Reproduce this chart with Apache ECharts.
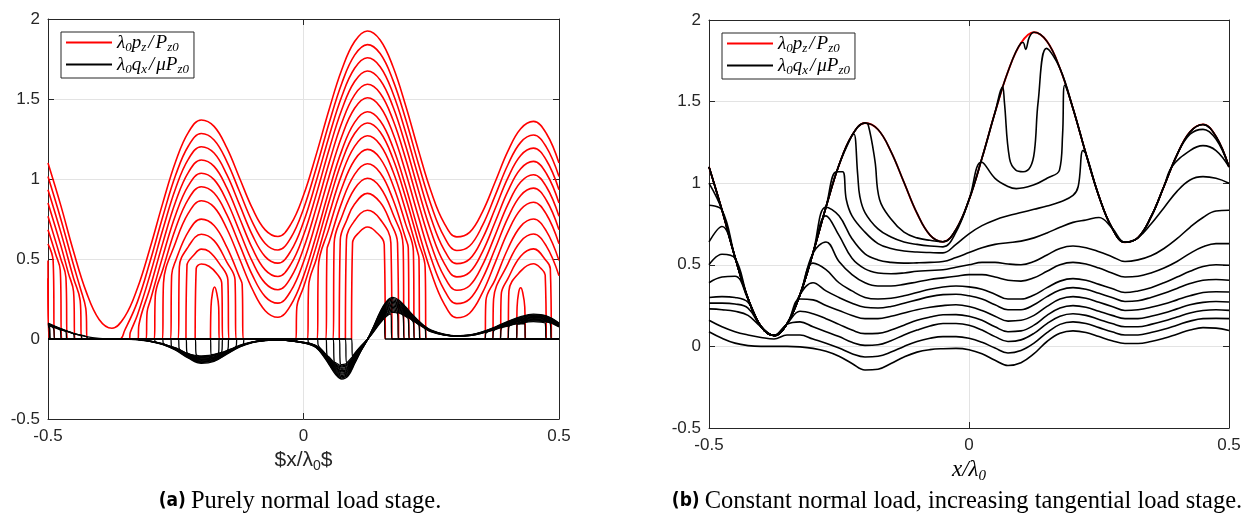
<!DOCTYPE html>
<html><head><meta charset="utf-8">
<script src="https://cdn.jsdelivr.net/npm/echarts@6/dist/echarts.min.js"></script>
<style>html,body{margin:0;padding:0;background:#fff}#c{width:1257px;height:523px}</style>
</head><body><div id="c"></div>
<script>
const xTickStep = 0.5, yTickStep = 0.5;
const xRange = [-0.5, 0.5];
const yRange = [-0.5, 2];

// (a) pressure curves
const pA0 = [[-0.5,1.10],[-0.475,0.835],[-0.45,0.547],[-0.425,0.293],[-0.4,0.122],[-0.375,0.067],[-0.35,0.138],[-0.325,0.317],[-0.3,0.572],[-0.275,0.854],[-0.25,1.111],[-0.225,1.293],[-0.2,1.369],[-0.175,1.329],[-0.15,1.194],[-0.125,1.005],[-0.1,0.816],[-0.075,0.682],[-0.05,0.641],[-0.025,0.716],[0,0.898],[0.025,1.154],[0.05,1.433],[0.075,1.684],[0.1,1.859],[0.125,1.925],[0.15,1.869],[0.175,1.703],[0.2,1.458],[0.225,1.179],[0.25,0.919],[0.275,0.726],[0.3,0.638],[0.325,0.666],[0.35,0.793],[0.375,0.981],[0.4,1.174],[0.425,1.314],[0.45,1.36],[0.475,1.286],[0.5,1.10]];
const pA1 = [[-0.5,1.015],[-0.475,0.75],[-0.45,0.462],[-0.437,0.32],[-0.426,0.19],[-0.423,0],[-0.36,0],[-0.35,0.053],[-0.325,0.232],[-0.3,0.487],[-0.275,0.769],[-0.25,1.026],[-0.225,1.208],[-0.2,1.284],[-0.175,1.244],[-0.15,1.109],[-0.125,0.92],[-0.1,0.731],[-0.075,0.597],[-0.05,0.556],[-0.025,0.631],[0,0.813],[0.025,1.069],[0.05,1.348],[0.075,1.599],[0.1,1.774],[0.125,1.84],[0.15,1.784],[0.175,1.618],[0.2,1.373],[0.225,1.094],[0.25,0.834],[0.275,0.641],[0.3,0.553],[0.325,0.581],[0.35,0.708],[0.375,0.896],[0.4,1.089],[0.425,1.229],[0.45,1.275],[0.475,1.201],[0.5,1.015]];
const pA2 = [[-0.5,0.933],[-0.475,0.668],[-0.45,0.38],[-0.437,0.24],[-0.434,0],[-0.341,0],[-0.339,0.04],[-0.325,0.15],[-0.3,0.405],[-0.275,0.687],[-0.25,0.944],[-0.225,1.126],[-0.2,1.202],[-0.175,1.162],[-0.15,1.027],[-0.125,0.838],[-0.1,0.649],[-0.075,0.515],[-0.05,0.474],[-0.025,0.549],[0,0.731],[0.025,0.987],[0.05,1.266],[0.075,1.517],[0.1,1.692],[0.125,1.758],[0.15,1.702],[0.175,1.536],[0.2,1.291],[0.225,1.012],[0.25,0.752],[0.275,0.559],[0.3,0.471],[0.325,0.499],[0.35,0.626],[0.375,0.814],[0.4,1.007],[0.425,1.147],[0.45,1.193],[0.475,1.119],[0.5,0.933]];
const pA3 = [[-0.5,0.85],[-0.475,0.585],[-0.46,0.41],[-0.45,0.297],[-0.447,0],[-0.324,0],[-0.322,0.09],[-0.3,0.322],[-0.275,0.604],[-0.25,0.861],[-0.225,1.043],[-0.2,1.119],[-0.175,1.079],[-0.15,0.944],[-0.125,0.755],[-0.1,0.566],[-0.075,0.432],[-0.05,0.391],[-0.025,0.466],[0,0.648],[0.025,0.904],[0.05,1.183],[0.075,1.434],[0.1,1.609],[0.125,1.675],[0.15,1.619],[0.175,1.453],[0.2,1.208],[0.225,0.929],[0.25,0.669],[0.275,0.476],[0.3,0.388],[0.325,0.416],[0.35,0.543],[0.375,0.731],[0.4,0.924],[0.425,1.064],[0.45,1.11],[0.475,1.036],[0.5,0.85]];
const pA4 = [[-0.5,0.767],[-0.475,0.502],[-0.465,0.386],[-0.462,0],[-0.308,0],[-0.306,0.17],[-0.3,0.239],[-0.275,0.521],[-0.25,0.778],[-0.225,0.96],[-0.2,1.036],[-0.175,0.996],[-0.15,0.861],[-0.125,0.672],[-0.1,0.483],[-0.075,0.349],[-0.05,0.308],[-0.025,0.383],[0,0.565],[0.025,0.821],[0.05,1.1],[0.075,1.351],[0.1,1.526],[0.125,1.592],[0.15,1.536],[0.175,1.37],[0.2,1.125],[0.225,0.846],[0.25,0.586],[0.275,0.393],[0.3,0.305],[0.325,0.333],[0.35,0.46],[0.375,0.648],[0.4,0.841],[0.425,0.981],[0.45,1.027],[0.475,0.953],[0.5,0.767]];
const pA5 = [[-0.5,0.683],[-0.485,0.53],[-0.476,0.43],[-0.473,0],[-0.292,0],[-0.29,0.27],[-0.275,0.437],[-0.25,0.694],[-0.225,0.876],[-0.2,0.952],[-0.175,0.912],[-0.15,0.777],[-0.125,0.588],[-0.1,0.399],[-0.075,0.265],[-0.05,0.224],[-0.025,0.299],[0,0.481],[0.025,0.737],[0.05,1.016],[0.075,1.267],[0.1,1.442],[0.125,1.508],[0.15,1.452],[0.175,1.286],[0.2,1.041],[0.225,0.762],[0.25,0.502],[0.275,0.309],[0.3,0.221],[0.325,0.249],[0.35,0.376],[0.375,0.564],[0.4,0.757],[0.425,0.897],[0.45,0.943],[0.475,0.869],[0.5,0.683]];
const pA6 = [[-0.5,0.595],[-0.49,0.49],[-0.487,0],[-0.276,0],[-0.274,0.35],[-0.25,0.606],[-0.225,0.788],[-0.2,0.864],[-0.175,0.824],[-0.15,0.689],[-0.125,0.5],[-0.1,0.311],[-0.075,0.177],[-0.05,0.136],[-0.025,0.211],[0,0.393],[0.025,0.649],[0.05,0.928],[0.075,1.179],[0.1,1.354],[0.125,1.42],[0.15,1.364],[0.175,1.198],[0.2,0.953],[0.225,0.674],[0.25,0.414],[0.275,0.221],[0.3,0.133],[0.325,0.161],[0.35,0.288],[0.375,0.476],[0.4,0.669],[0.425,0.809],[0.45,0.855],[0.475,0.781],[0.5,0.595]];
const pA7 = [[-0.5,0.49],[-0.497,0],[-0.26,0],[-0.258,0.4],[-0.25,0.491],[-0.225,0.673],[-0.2,0.749],[-0.175,0.709],[-0.15,0.574],[-0.125,0.385],[-0.12,0.34],[-0.118,0],[-0.015,0],[-0.013,0.2],[0,0.323],[0.025,0.579],[0.05,0.858],[0.075,1.109],[0.1,1.284],[0.125,1.35],[0.15,1.294],[0.175,1.128],[0.2,0.883],[0.225,0.604],[0.238,0.45],[0.24,0],[0.355,0],[0.357,0.24],[0.375,0.371],[0.4,0.564],[0.425,0.704],[0.45,0.75],[0.475,0.676],[0.5,0.49]];
const pA8 = [[-0.5,0.38],[-0.498,0],[-0.245,0],[-0.243,0.45],[-0.225,0.579],[-0.2,0.655],[-0.175,0.615],[-0.15,0.48],[-0.134,0.37],[-0.132,0],[0.008,0],[0.01,0.33],[0.025,0.499],[0.05,0.778],[0.075,1.029],[0.1,1.204],[0.125,1.27],[0.15,1.214],[0.175,1.048],[0.2,0.803],[0.225,0.524],[0.226,0.5],[0.228,0],[0.37,0],[0.372,0.25],[0.4,0.47],[0.425,0.61],[0.45,0.656],[0.475,0.582],[0.5,0.396]];
const pA9 = [[-0.23,0],[-0.228,0.46],[-0.215,0.523],[-0.2,0.562],[-0.185,0.548],[-0.165,0.473],[-0.148,0.37],[-0.146,0],[0.027,0],[0.029,0.45],[0.05,0.693],[0.075,0.944],[0.1,1.119],[0.125,1.185],[0.15,1.129],[0.175,0.963],[0.2,0.718],[0.215,0.55],[0.217,0],[0.385,0],[0.387,0.28],[0.4,0.377],[0.425,0.517],[0.45,0.563],[0.475,0.489],[0.483,0.44],[0.485,0]];
const pA10 = [[-0.212,0],[-0.21,0.44],[-0.2,0.469],[-0.185,0.455],[-0.17,0.41],[-0.16,0.35],[-0.158,0],[0.044,0],[0.046,0.56],[0.05,0.603],[0.075,0.854],[0.1,1.029],[0.125,1.095],[0.15,1.039],[0.175,0.873],[0.2,0.628],[0.205,0.57],[0.207,0],[0.4,0],[0.402,0.3],[0.425,0.424],[0.45,0.47],[0.465,0.44],[0.473,0.4],[0.475,0]];
const pA11 = [[-0.182,0],[-0.181,0.2],[-0.178,0.29],[-0.174,0.325],[-0.17,0.29],[-0.166,0.2],[-0.165,0],[0.058,0],[0.06,0.6],[0.075,0.764],[0.1,0.939],[0.125,1.005],[0.15,0.949],[0.175,0.783],[0.195,0.58],[0.197,0],[0.417,0],[0.418,0.2],[0.421,0.29],[0.425,0.32],[0.429,0.29],[0.433,0.2],[0.434,0]];
const pA12 = [[0.07,0],[0.072,0.62],[0.085,0.745],[0.1,0.844],[0.125,0.91],[0.15,0.854],[0.17,0.73],[0.184,0.6],[0.186,0]];
const pA13 = [[0.082,0],[0.084,0.62],[0.1,0.739],[0.125,0.805],[0.15,0.749],[0.171,0.6],[0.173,0]];
const pA14 = [[0.094,0],[0.096,0.6],[0.11,0.67],[0.125,0.70],[0.14,0.675],[0.158,0.59],[0.16,0]];

// (a) tangential traction curves
const qA0 = [[-0.5,0.1],[-0.475,0.065],[-0.45,0.035],[-0.425,0.015],[-0.4,0.004],[-0.375,0],[-0.35,0],[-0.325,-0.004],[-0.3,-0.015],[-0.275,-0.035],[-0.25,-0.07],[-0.225,-0.12],[-0.2,-0.152],[-0.175,-0.14],[-0.15,-0.095],[-0.125,-0.05],[-0.1,-0.022],[-0.075,-0.01],[-0.05,-0.006],[-0.025,-0.012],[0,-0.025],[0.0125,-0.035],[0.025,-0.055],[0.0375,-0.1],[0.05,-0.16],[0.0625,-0.22],[0.075,-0.25],[0.0875,-0.23],[0.1,-0.155],[0.1125,-0.075],[0.125,-0.005],[0.1375,0.08],[0.15,0.17],[0.1625,0.235],[0.175,0.26],[0.1875,0.24],[0.2,0.2],[0.2125,0.155],[0.225,0.115],[0.2375,0.08],[0.25,0.055],[0.275,0.03],[0.3,0.02],[0.325,0.025],[0.35,0.045],[0.375,0.075],[0.4,0.11],[0.425,0.14],[0.45,0.155],[0.475,0.145],[0.5,0.1]];
const qA1 = [[-0.5,0.097],[-0.475,0.063],[-0.45,0.034],[-0.424,0.014],[-0.422,0],[-0.36,0],[-0.325,-0.004],[-0.3,-0.015],[-0.275,-0.034],[-0.25,-0.068],[-0.225,-0.116],[-0.2,-0.147],[-0.175,-0.136],[-0.15,-0.092],[-0.125,-0.049],[-0.1,-0.021],[-0.075,-0.01],[-0.05,-0.006],[-0.025,-0.012],[0,-0.024],[0.0125,-0.034],[0.025,-0.053],[0.0375,-0.097],[0.05,-0.155],[0.0625,-0.213],[0.075,-0.243],[0.0875,-0.223],[0.1,-0.15],[0.1125,-0.073],[0.125,-0.005],[0.1375,0.078],[0.15,0.165],[0.1625,0.228],[0.175,0.252],[0.1875,0.233],[0.2,0.194],[0.2125,0.15],[0.225,0.112],[0.2375,0.078],[0.25,0.053],[0.275,0.029],[0.3,0.019],[0.325,0.024],[0.35,0.044],[0.375,0.073],[0.4,0.107],[0.425,0.136],[0.45,0.15],[0.475,0.141],[0.5,0.097]];
const qA2 = [[-0.5,0.094],[-0.475,0.061],[-0.45,0.033],[-0.435,0.02],[-0.433,0],[-0.341,0],[-0.325,-0.004],[-0.3,-0.014],[-0.275,-0.033],[-0.25,-0.066],[-0.225,-0.113],[-0.2,-0.143],[-0.175,-0.132],[-0.15,-0.089],[-0.125,-0.047],[-0.1,-0.021],[-0.075,-0.009],[-0.05,-0.006],[-0.025,-0.011],[0,-0.024],[0.0125,-0.033],[0.025,-0.052],[0.0375,-0.094],[0.05,-0.15],[0.0625,-0.207],[0.075,-0.235],[0.0875,-0.216],[0.1,-0.146],[0.1125,-0.071],[0.125,-0.005],[0.1375,0.075],[0.15,0.16],[0.1625,0.221],[0.175,0.244],[0.1875,0.226],[0.2,0.188],[0.2125,0.146],[0.225,0.108],[0.2375,0.075],[0.25,0.052],[0.275,0.028],[0.3,0.019],[0.325,0.024],[0.35,0.042],[0.375,0.071],[0.4,0.103],[0.425,0.132],[0.45,0.146],[0.475,0.136],[0.5,0.094]];
const qA3 = [[-0.5,0.091],[-0.475,0.059],[-0.45,0.032],[-0.448,0],[-0.324,0],[-0.322,-0.005],[-0.3,-0.014],[-0.275,-0.032],[-0.25,-0.064],[-0.225,-0.109],[-0.2,-0.138],[-0.175,-0.127],[-0.15,-0.086],[-0.125,-0.046],[-0.1,-0.02],[-0.075,-0.009],[-0.05,-0.005],[-0.025,-0.011],[0,-0.023],[0.0125,-0.032],[0.025,-0.05],[0.0375,-0.091],[0.05,-0.146],[0.0625,-0.2],[0.075,-0.228],[0.0875,-0.209],[0.1,-0.141],[0.1125,-0.068],[0.125,-0.005],[0.1375,0.073],[0.15,0.155],[0.1625,0.214],[0.175,0.237],[0.1875,0.218],[0.2,0.182],[0.2125,0.141],[0.225,0.105],[0.2375,0.073],[0.25,0.05],[0.275,0.027],[0.3,0.018],[0.325,0.023],[0.35,0.041],[0.375,0.068],[0.4,0.1],[0.425,0.127],[0.45,0.141],[0.475,0.132],[0.5,0.091]];
const qA4 = [[-0.5,0.088],[-0.475,0.057],[-0.465,0.045],[-0.463,0],[-0.308,0],[-0.306,-0.012],[-0.3,-0.013],[-0.275,-0.031],[-0.25,-0.062],[-0.225,-0.106],[-0.2,-0.134],[-0.175,-0.123],[-0.15,-0.084],[-0.125,-0.044],[-0.1,-0.019],[-0.075,-0.009],[-0.05,-0.005],[-0.025,-0.011],[0,-0.022],[0.0125,-0.031],[0.025,-0.048],[0.0375,-0.088],[0.05,-0.141],[0.0625,-0.194],[0.075,-0.22],[0.0875,-0.202],[0.1,-0.136],[0.1125,-0.066],[0.125,-0.004],[0.1375,0.07],[0.15,0.15],[0.1625,0.207],[0.175,0.229],[0.1875,0.211],[0.2,0.176],[0.2125,0.136],[0.225,0.101],[0.2375,0.07],[0.25,0.048],[0.275,0.026],[0.3,0.018],[0.325,0.022],[0.35,0.04],[0.375,0.066],[0.4,0.097],[0.425,0.123],[0.45,0.136],[0.475,0.128],[0.5,0.088]];
const qA5 = [[-0.5,0.085],[-0.476,0.056],[-0.474,0],[-0.292,0],[-0.29,-0.018],[-0.275,-0.03],[-0.25,-0.06],[-0.225,-0.102],[-0.2,-0.129],[-0.175,-0.119],[-0.15,-0.081],[-0.125,-0.043],[-0.1,-0.019],[-0.075,-0.009],[-0.05,-0.005],[-0.025,-0.01],[0,-0.021],[0.0125,-0.03],[0.025,-0.047],[0.0375,-0.085],[0.05,-0.136],[0.0625,-0.187],[0.075,-0.213],[0.0875,-0.196],[0.1,-0.132],[0.1125,-0.064],[0.125,-0.004],[0.1375,0.068],[0.15,0.145],[0.1625,0.2],[0.175,0.221],[0.1875,0.204],[0.2,0.17],[0.2125,0.132],[0.225,0.098],[0.2375,0.068],[0.25,0.047],[0.275,0.026],[0.3,0.017],[0.325,0.021],[0.35,0.038],[0.375,0.064],[0.4,0.094],[0.425,0.119],[0.45,0.132],[0.475,0.123],[0.5,0.085]];
const qA6 = [[-0.5,0.082],[-0.489,0.066],[-0.487,0],[-0.276,0],[-0.274,-0.03],[-0.25,-0.057],[-0.225,-0.098],[-0.2,-0.125],[-0.175,-0.115],[-0.15,-0.078],[-0.125,-0.041],[-0.1,-0.018],[-0.075,-0.008],[-0.05,-0.005],[-0.025,-0.01],[0,-0.021],[0.0125,-0.029],[0.025,-0.045],[0.0375,-0.082],[0.05,-0.131],[0.0625,-0.18],[0.075,-0.205],[0.0875,-0.189],[0.1,-0.127],[0.1125,-0.062],[0.125,-0.004],[0.1375,0.066],[0.15,0.139],[0.1625,0.193],[0.175,0.213],[0.1875,0.197],[0.2,0.164],[0.2125,0.127],[0.225,0.094],[0.2375,0.066],[0.25,0.045],[0.275,0.025],[0.3,0.016],[0.325,0.021],[0.35,0.037],[0.375,0.062],[0.4,0.09],[0.425,0.115],[0.45,0.127],[0.475,0.119],[0.5,0.082]];
const qA7 = [[-0.5,0.079],[-0.497,0.075],[-0.495,0],[-0.26,0],[-0.258,-0.05],[-0.25,-0.055],[-0.225,-0.095],[-0.2,-0.12],[-0.175,-0.111],[-0.15,-0.075],[-0.125,-0.04],[-0.118,-0.032],[-0.116,0],[-0.015,0],[-0.013,-0.013],[0,-0.02],[0.0125,-0.028],[0.025,-0.043],[0.0375,-0.079],[0.05,-0.126],[0.0625,-0.174],[0.075,-0.198],[0.0875,-0.182],[0.1,-0.122],[0.1125,-0.059],[0.125,-0.004],[0.1375,0.063],[0.15,0.134],[0.1625,0.186],[0.175,0.205],[0.1875,0.19],[0.2,0.158],[0.2125,0.122],[0.225,0.091],[0.238,0.065],[0.24,0],[0.355,0],[0.357,0.036],[0.375,0.059],[0.4,0.087],[0.425,0.111],[0.45,0.122],[0.475,0.115],[0.5,0.079]];
const qA8 = [[-0.5,0.076],[-0.498,0.073],[-0.496,0],[-0.245,0],[-0.243,-0.063],[-0.225,-0.091],[-0.2,-0.116],[-0.175,-0.106],[-0.15,-0.072],[-0.132,-0.045],[-0.13,0],[0.008,0],[0.01,-0.024],[0.025,-0.042],[0.0375,-0.076],[0.05,-0.122],[0.0625,-0.167],[0.075,-0.19],[0.0875,-0.175],[0.1,-0.118],[0.1125,-0.057],[0.125,-0.004],[0.1375,0.061],[0.15,0.129],[0.1625,0.179],[0.175,0.198],[0.1875,0.182],[0.2,0.152],[0.2125,0.118],[0.226,0.085],[0.228,0],[0.37,0],[0.372,0.051],[0.4,0.084],[0.425,0.106],[0.45,0.118],[0.475,0.11],[0.5,0.076]];
const qA9 = [[-0.5,0],[-0.23,0],[-0.228,-0.085],[-0.215,-0.1],[-0.2,-0.111],[-0.185,-0.109],[-0.165,-0.088],[-0.148,-0.067],[-0.146,0],[0.027,0],[0.029,-0.04],[0.0375,-0.073],[0.05,-0.117],[0.0625,-0.161],[0.075,-0.183],[0.0875,-0.168],[0.1,-0.113],[0.1125,-0.055],[0.125,-0.004],[0.1375,0.058],[0.15,0.124],[0.1625,0.172],[0.175,0.19],[0.1875,0.175],[0.2,0.146],[0.215,0.105],[0.217,0],[0.385,0],[0.387,0.065],[0.4,0.08],[0.425,0.102],[0.45,0.113],[0.475,0.106],[0.483,0.098],[0.485,0],[0.5,0]];
const qA10 = [[-0.5,0],[-0.212,0],[-0.21,-0.097],[-0.2,-0.106],[-0.185,-0.103],[-0.17,-0.093],[-0.16,-0.08],[-0.158,0],[0.044,0],[0.046,-0.1],[0.05,-0.112],[0.0625,-0.154],[0.075,-0.175],[0.0875,-0.161],[0.1,-0.109],[0.1125,-0.053],[0.125,-0.004],[0.1375,0.056],[0.15,0.119],[0.1625,0.165],[0.175,0.182],[0.1875,0.168],[0.2,0.14],[0.205,0.125],[0.207,0],[0.4,0],[0.402,0.078],[0.425,0.098],[0.45,0.109],[0.465,0.105],[0.473,0.099],[0.475,0],[0.5,0]];
const qA11 = [[-0.5,0],[-0.182,0],[-0.181,-0.098],[-0.174,-0.097],[-0.166,-0.085],[-0.165,0],[0.058,0],[0.06,-0.142],[0.0625,-0.147],[0.075,-0.168],[0.0875,-0.154],[0.1,-0.104],[0.1125,-0.05],[0.125,-0.003],[0.1375,0.054],[0.15,0.114],[0.1625,0.157],[0.175,0.174],[0.1875,0.161],[0.195,0.145],[0.197,0],[0.417,0],[0.418,0.089],[0.425,0.094],[0.433,0.097],[0.434,0],[0.5,0]];
const qA12 = [[-0.5,0],[0.07,0],[0.072,-0.155],[0.075,-0.16],[0.0875,-0.147],[0.1,-0.099],[0.1125,-0.048],[0.125,-0.003],[0.1375,0.051],[0.15,0.109],[0.1625,0.15],[0.175,0.166],[0.184,0.158],[0.186,0],[0.5,0]];
const qA13 = [[-0.5,0],[0.082,0],[0.084,-0.147],[0.0875,-0.14],[0.1,-0.095],[0.1125,-0.046],[0.125,-0.003],[0.1375,0.049],[0.15,0.104],[0.1625,0.143],[0.171,0.157],[0.173,0],[0.5,0]];
const qA14 = [[-0.5,0],[0.094,0],[0.096,-0.11],[0.1,-0.09],[0.1125,-0.044],[0.125,-0.003],[0.1375,0.046],[0.15,0.099],[0.158,0.127],[0.16,0],[0.5,0]];

// (b) tangential traction curves on x grid of 0.025
const xB = [-0.5,-0.475,-0.45,-0.425,-0.4,-0.375,-0.35,-0.325,-0.3,-0.275,-0.25,-0.225,-0.2,-0.175,-0.15,-0.125,-0.1,-0.075,-0.05,-0.025,0,0.025,0.05,0.075,0.1,0.125,0.15,0.175,0.2,0.225,0.25,0.275,0.3,0.325,0.35,0.375,0.4,0.425,0.45,0.475,0.5];
const qB1 = [0.09,0.05,0.02,0.005,0,0,0,-0.003,-0.012,-0.03,-0.06,-0.105,-0.145,-0.14,-0.105,-0.065,-0.035,-0.02,-0.014,-0.012,-0.02,-0.045,-0.085,-0.117,-0.1,-0.045,0.03,0.08,0.095,0.085,0.06,0.035,0.018,0.018,0.03,0.05,0.075,0.1,0.115,0.112,0.098];
const qB2 = [0.16,0.12,0.09,0.07,0.055,0.045,0.07,0.07,0.045,0.02,-0.01,-0.045,-0.065,-0.06,-0.035,0.0,0.03,0.05,0.06,0.06,0.05,0.025,-0.01,-0.04,-0.025,0.02,0.085,0.135,0.15,0.14,0.115,0.09,0.07,0.07,0.085,0.105,0.13,0.155,0.17,0.172,0.17];
const qB3 = [0.23,0.225,0.215,0.19,0.12,0.067,0.135,0.15,0.12,0.09,0.06,0.025,0.006,0.01,0.035,0.07,0.1,0.125,0.14,0.14,0.13,0.1,0.06,0.03,0.04,0.08,0.14,0.185,0.2,0.19,0.165,0.14,0.12,0.12,0.135,0.155,0.18,0.205,0.22,0.225,0.221];
const qB4 = [0.265,0.265,0.26,0.235,0.122,0.067,0.138,0.215,0.2,0.17,0.135,0.1,0.078,0.08,0.1,0.13,0.16,0.18,0.194,0.195,0.185,0.16,0.12,0.09,0.095,0.13,0.19,0.235,0.25,0.24,0.215,0.19,0.17,0.17,0.185,0.205,0.23,0.255,0.27,0.275,0.272];
const qB5 = [0.30,0.305,0.30,0.27,0.122,0.067,0.138,0.29,0.285,0.25,0.22,0.19,0.17,0.17,0.185,0.205,0.225,0.24,0.25,0.255,0.245,0.22,0.185,0.155,0.16,0.19,0.245,0.29,0.305,0.295,0.27,0.245,0.22,0.225,0.24,0.26,0.285,0.31,0.33,0.335,0.333];
const qB6 = [0.39,0.425,0.43,0.29,0.122,0.067,0.138,0.317,0.39,0.34,0.3,0.265,0.24,0.235,0.245,0.265,0.285,0.305,0.317,0.32,0.31,0.29,0.255,0.225,0.225,0.255,0.305,0.345,0.36,0.35,0.325,0.3,0.275,0.28,0.3,0.325,0.355,0.385,0.405,0.41,0.405];
const qB7 = [0.50,0.565,0.54,0.293,0.122,0.067,0.138,0.317,0.51,0.47,0.39,0.34,0.30,0.29,0.295,0.31,0.33,0.35,0.364,0.37,0.365,0.35,0.32,0.29,0.29,0.315,0.36,0.4,0.415,0.405,0.38,0.355,0.33,0.34,0.36,0.39,0.425,0.46,0.49,0.5,0.497];
const qB8 = [0.64,0.735,0.547,0.293,0.122,0.067,0.138,0.317,0.572,0.64,0.52,0.44,0.39,0.37,0.37,0.38,0.395,0.41,0.42,0.43,0.44,0.44,0.425,0.405,0.40,0.42,0.46,0.5,0.515,0.505,0.48,0.45,0.425,0.43,0.45,0.48,0.52,0.57,0.61,0.63,0.63];
const qB9 = [0.865,0.835,0.547,0.293,0.122,0.067,0.138,0.317,0.572,0.80,0.68,0.54,0.475,0.45,0.445,0.45,0.46,0.465,0.47,0.485,0.5,0.515,0.515,0.505,0.5,0.52,0.56,0.6,0.615,0.605,0.58,0.55,0.52,0.53,0.555,0.6,0.66,0.73,0.79,0.83,0.834];
const qB10 = [1.0,0.835,0.547,0.293,0.122,0.067,0.138,0.317,0.572,0.854,0.8,0.66,0.567,0.53,0.515,0.51,0.512,0.515,0.52,0.545,0.575,0.605,0.625,0.635,0.645,0.665,0.695,0.73,0.76,0.775,0.79,0.726,0.638,0.666,0.75,0.85,0.95,1.02,1.04,1.03,1.0];
const qB11 = [[-0.5,1.1],[-0.475,0.835],[-0.45,0.547],[-0.425,0.293],[-0.4,0.122],[-0.375,0.067],[-0.35,0.138],[-0.325,0.317],[-0.3,0.572],[-0.275,0.854],[-0.255,1.07],[-0.243,1.07],[-0.236,0.9],[-0.225,0.8],[-0.2,0.70],[-0.175,0.63],[-0.15,0.6],[-0.125,0.585],[-0.1,0.578],[-0.075,0.575],[-0.05,0.573],[-0.025,0.625],[0,0.69],[0.025,0.74],[0.05,0.775],[0.075,0.8],[0.1,0.82],[0.125,0.84],[0.15,0.86],[0.175,0.885],[0.2,0.925],[0.21,0.98],[0.219,1.2],[0.225,1.179],[0.25,0.919],[0.275,0.726],[0.3,0.638],[0.325,0.666],[0.35,0.793],[0.375,0.981],[0.39,1.1],[0.425,1.2],[0.45,1.23],[0.475,1.2],[0.5,1.1]];
const qB12 = [[-0.5,1.1],[-0.475,0.835],[-0.45,0.547],[-0.425,0.293],[-0.4,0.122],[-0.375,0.067],[-0.35,0.138],[-0.325,0.317],[-0.3,0.572],[-0.275,0.854],[-0.25,1.111],[-0.225,1.293],[-0.221,1.3],[-0.214,1.05],[-0.21,0.92],[-0.2,0.82],[-0.175,0.72],[-0.15,0.67],[-0.125,0.64],[-0.1,0.625],[-0.075,0.615],[-0.05,0.61],[-0.025,0.7],[0,0.898],[0.024,1.13],[0.05,1.03],[0.075,0.98],[0.091,0.967],[0.125,0.99],[0.15,1.03],[0.174,1.08],[0.18,1.3],[0.184,1.6],[0.2,1.458],[0.225,1.179],[0.25,0.919],[0.275,0.726],[0.3,0.638],[0.325,0.666],[0.35,0.793],[0.375,0.981],[0.4,1.174],[0.425,1.3],[0.45,1.33],[0.475,1.27],[0.5,1.1]];
const qB13 = [[-0.5,1.1],[-0.475,0.835],[-0.45,0.547],[-0.425,0.293],[-0.4,0.122],[-0.375,0.067],[-0.35,0.138],[-0.325,0.317],[-0.3,0.572],[-0.275,0.854],[-0.25,1.111],[-0.225,1.293],[-0.2,1.369],[-0.194,1.36],[-0.181,1.14],[-0.172,0.9],[-0.15,0.78],[-0.125,0.7],[-0.1,0.665],[-0.075,0.65],[-0.05,0.641],[-0.025,0.716],[0,0.898],[0.025,1.154],[0.05,1.433],[0.0645,1.59],[0.068,1.5],[0.078,1.15],[0.09,1.08],[0.104,1.07],[0.118,1.1],[0.126,1.2],[0.133,1.5],[0.149,1.826],[0.175,1.703],[0.2,1.458],[0.225,1.179],[0.25,0.919],[0.275,0.726],[0.3,0.638],[0.325,0.666],[0.35,0.793],[0.375,0.981],[0.4,1.174],[0.425,1.314],[0.45,1.36],[0.475,1.286],[0.5,1.1]];
const qB14 = [[-0.5,1.10],[-0.475,0.835],[-0.45,0.547],[-0.425,0.293],[-0.4,0.122],[-0.375,0.067],[-0.35,0.138],[-0.325,0.317],[-0.3,0.572],[-0.275,0.854],[-0.25,1.111],[-0.225,1.293],[-0.2,1.369],[-0.175,1.329],[-0.15,1.194],[-0.125,1.005],[-0.1,0.816],[-0.075,0.682],[-0.05,0.641],[-0.025,0.716],[0,0.898],[0.025,1.154],[0.05,1.433],[0.075,1.684],[0.1,1.859],[0.104,1.862],[0.109,1.82],[0.116,1.895],[0.125,1.925],[0.15,1.869],[0.175,1.703],[0.2,1.458],[0.225,1.179],[0.25,0.919],[0.275,0.726],[0.3,0.638],[0.325,0.666],[0.35,0.793],[0.375,0.981],[0.4,1.174],[0.425,1.314],[0.45,1.36],[0.475,1.286],[0.5,1.10]];

// build
const AX = '#262626';
const redA = [pA0,pA1,pA2,pA3,pA4,pA5,pA6,pA7,pA8,pA9,pA10,pA11,pA12,pA13,pA14];
const blackA = [qA0,qA1,qA2,qA3,qA4,qA5,qA6,qA7,qA8,qA9,qA10,qA11,qA12,qA13,qA14];
const blackB = [qB1,qB2,qB3,qB4,qB5,qB6,qB7,qB8,qB9,qB10].map(a => xB.map((x,i)=>[x,a[i]]));
blackB.push(qB11, qB12, qB13, qB14);

function line(name, data, xi, yi, color, width) {
  return {type:'line', name, data, xAxisIndex:xi, yAxisIndex:yi, symbol:'none', showSymbol:false, smooth:0.4,
    lineStyle:{color, width}, itemStyle:{color}, silent:true, animation:false, z:2};
}
const series = [];
redA.forEach(d => series.push(line('pz', d, 0, 0, '#ff0000', 1.6)));
blackA.forEach(d => series.push(line('qx', d, 0, 0, '#000000', 1.3)));
series.push(line('pz', pA0, 2, 2, '#ff0000', 1.8));
blackB.forEach(d => series.push(line('qx', d, 2, 2, '#000000', 1.6)));

const tickFont = {color:AX, fontSize:17, fontFamily:'Liberation Sans'};
function xAxes(gi, nameObj) {
  return [
    Object.assign({type:'value', gridIndex:gi, min:xRange[0], max:xRange[1], interval:xTickStep, position:'bottom',
     axisLine:{show:true, onZero:false, lineStyle:{color:AX, width:1}},
     axisTick:{show:true, inside:true, length:6, lineStyle:{color:AX}},
     axisLabel:Object.assign({margin:9}, tickFont),
     splitLine:{show:true, lineStyle:{color:'#e3e3e3', width:1}}}, nameObj),
    {type:'value', gridIndex:gi, min:xRange[0], max:xRange[1], interval:xTickStep, position:'top',
     axisLine:{show:true, onZero:false, lineStyle:{color:AX, width:1}},
     axisTick:{show:true, inside:true, length:6, lineStyle:{color:AX}},
     axisLabel:{show:false}, splitLine:{show:false}}
  ];
}
function yAxes(gi) {
  return [
    {type:'value', gridIndex:gi, min:yRange[0], max:yRange[1], interval:yTickStep, position:'left',
     axisLine:{show:true, onZero:false, lineStyle:{color:AX, width:1}},
     axisTick:{show:true, inside:true, length:6, lineStyle:{color:AX}},
     axisLabel:Object.assign({margin:8}, tickFont),
     splitLine:{show:true, lineStyle:{color:'#e3e3e3', width:1}}},
    {type:'value', gridIndex:gi, min:yRange[0], max:yRange[1], interval:yTickStep, position:'right',
     axisLine:{show:true, onZero:false, lineStyle:{color:AX, width:1}},
     axisTick:{show:true, inside:true, length:6, lineStyle:{color:AX}},
     axisLabel:{show:false}, splitLine:{show:false}}
  ];
}
const serifI = {fontFamily:'Liberation Serif', fontStyle:'italic', fontWeight:'normal', color:'#000'};
const legendRich = {
  i: Object.assign({fontSize:19}, serifI),
  d: Object.assign({fontSize:19, padding:[0,2,0,2]}, serifI),
  s: Object.assign({fontSize:13, padding:[10,0,0,0]}, serifI)
};
function legendFmt(n) {
  return n === 'pz' ? '{i|λ}{s|0}{i|p}{s|z}{d|/}{i|P}{s|z0}' : '{i|λ}{s|0}{i|q}{s|x}{d|/}{i|μP}{s|z0}';
}
function legend(left, top) {
  return {left, top, orient:'vertical', selectedMode:false,
    data:[{name:'pz', icon:'rect'}, {name:'qx', icon:'rect'}],
    itemWidth:46, itemHeight:2, itemGap:1, padding:[1,5,2,5],
    borderColor:AX, borderWidth:1, backgroundColor:'#fff',
    formatter:legendFmt, textStyle:{rich:legendRich, fontSize:19, padding:[0,0,0,0]}};
}
const capRich = {
  b:{fontFamily:'DejaVu Sans Condensed', fontWeight:'bold', fontSize:19, color:'#000'},
  r:{fontFamily:'Liberation Serif', fontWeight:'normal', fontSize:24.5, color:'#000'}
};

const option = {
  animation:false,
  backgroundColor:'#fff',
  grid:[
    {left:48, top:19, width:511, height:400},
    {left:709, top:20, width:520, height:408}
  ],
  xAxis:[
    ...xAxes(0, {name:'{a|$x/λ}{b|0}{a|$}', nameLocation:'middle', nameGap:29,
      nameTextStyle:{rich:{a:{fontSize:21, fontFamily:'Liberation Sans', color:AX},
                          b:{fontSize:14, fontFamily:'Liberation Sans', color:AX, padding:[11,0,0,0]}}}}),
    ...xAxes(1, {name:'{i|x/λ}{s|0}', nameLocation:'middle', nameGap:26,
      nameTextStyle:{rich:{i:Object.assign({fontSize:23}, serifI), s:Object.assign({fontSize:15, padding:[11,0,0,0]}, serifI)}}})
  ],
  yAxis:[...yAxes(0), ...yAxes(1)],
  legend:[legend(61,32), legend(722,33)],
  title:[
    {left:295, top:484, textAlign:'center', text:'{b|(a)} {r|Purely normal load stage.}',
     textStyle:{fontWeight:'normal', rich:capRich}},
    {left:952, top:484, textAlign:'center', text:'{b|(b)} {r|Constant normal load, increasing tangential load stage.}',
     textStyle:{fontWeight:'normal', rich:capRich}}
  ],
  series
};
const chart = echarts.init(document.getElementById('c'), null, {renderer:'canvas'});
chart.setOption(option);
</script></body></html>
